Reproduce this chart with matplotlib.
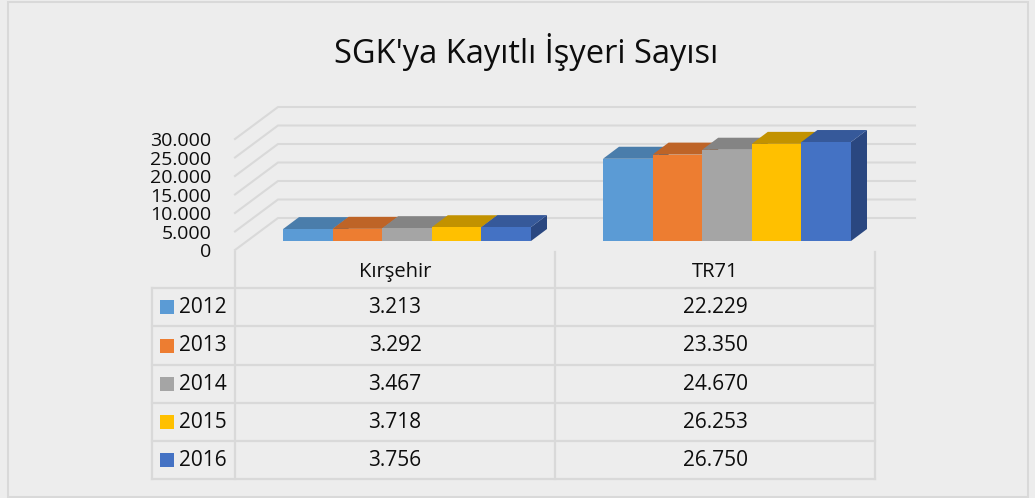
import matplotlib.pyplot as plt
from matplotlib.patches import Polygon, Rectangle

plt.rcParams["font.family"] = ["Open Sans", "DejaVu Sans"]

regions = ["Kırşehir", "TR71"]
years = ["2012", "2013", "2014", "2015", "2016"]
v2012 = [3213, 22229]
v2013 = [3292, 23350]
v2014 = [3467, 24670]
v2015 = [3718, 26253]
v2016 = [3756, 26750]
series = [v2012, v2013, v2014, v2015, v2016]
y_ticks = [0, 5000, 10000, 15000, 20000, 25000, 30000]

front_colors = ["#5B9BD5", "#ED7D31", "#A5A5A5", "#FFC000", "#4472C4"]
top_colors = ["#4A7DAB", "#BE6427", "#848484", "#C29200", "#36599A"]
side_colors = ["#3E6A93", "#A35522", "#707070", "#A67D00", "#2A4780"]

BG = "#EDEDED"
GRID = "#D9D9D9"
INK = "#0d0d0d"
W, H = 1035, 498


def fmt(v):
    return f"{v:,}".replace(",", ".")


fig = plt.figure(figsize=(W / 100, H / 100), dpi=100, facecolor=BG)

# overlay in pixel coords for frame, title and table
ov = fig.add_axes([0, 0, 1, 1], zorder=0)
ov.set_xlim(0, W)
ov.set_ylim(H, 0)
ov.axis("off")
ov.add_patch(Rectangle((8, 2), 1020, 495, fill=False, ec=GRID, lw=1.5))
ov.text(526, 52, "SGK'ya Kayıtlı İşyeri Sayısı", ha="center", va="center",
        fontsize=23.5, color=INK)

# plot area: front floor from x=235..875 px, value 0 at y=250 px
px_x = 1 / 320
px_y = 30000 / 111
ax = fig.add_axes([235 / W, (H - 250) / H, 683 / W, 150 / H], zorder=1)
ax.set_xlim(-0.5, -0.5 + 683 * px_x)
ax.set_ylim(0, 150 * px_y)
ax.patch.set_alpha(0)
for s in ax.spines.values():
    s.set_visible(False)
ax.set_xticks([])
ax.set_yticks(y_ticks)
ax.set_yticklabels([fmt(t) for t in y_ticks])
ax.tick_params(axis="y", length=0, pad=17, labelsize=14, labelcolor=INK)

# back wall gridlines
wall_dx, wall_dy = 43 * px_x, 32 * px_y
x_end = -0.5 + 680 * px_x
for t in y_ticks:
    ax.plot([-0.5, -0.5 + wall_dx, x_end], [t, t + wall_dy, t + wall_dy],
            color=GRID, lw=1.5, clip_on=False, zorder=1)

# pseudo 3d bars
group_w = 0.775
bar_w = group_w / len(series)
dxf, dyf = 12 * px_x, 9 * px_y
ddx, ddy = 16 * px_x, 12 * px_y
z = 2
for ci in range(len(regions)):
    for si, vals in enumerate(series):
        v = vals[ci]
        xl = ci - group_w / 2 + si * bar_w + dxf
        xr = xl + bar_w
        side = Polygon([(xr, dyf), (xr, dyf + v), (xr + ddx, dyf + v + ddy),
                        (xr + ddx, dyf + ddy)], closed=True,
                       fc=side_colors[si], ec="none", zorder=z, clip_on=False)
        top = Polygon([(xl, dyf + v), (xr, dyf + v), (xr + ddx, dyf + v + ddy),
                       (xl + ddx, dyf + v + ddy)], closed=True,
                      fc=top_colors[si], ec="none", zorder=z + 1, clip_on=False)
        ax.add_patch(side)
        ax.add_patch(top)
        ax.bar(xl, v, width=bar_w, bottom=dyf, align="edge",
               color=front_colors[si], zorder=z + 2, clip_on=False)
        z += 3

# data table
col_x = [152, 235, 555, 875]
row_y = [288, 326, 365, 403, 441, 479]
for x in col_x[1:]:
    ov.plot([x, x], [252, row_y[-1]], color=GRID, lw=1.6)
ov.plot([col_x[0], col_x[0]], [row_y[0], row_y[-1]], color=GRID, lw=1.6)
for y in row_y:
    ov.plot([col_x[0], col_x[-1]], [y, y], color=GRID, lw=1.6)

for ci, name in enumerate(regions):
    cx = (col_x[ci + 1] + col_x[ci + 2]) / 2
    ov.text(cx, 272, name, ha="center", va="center", fontsize=14.5, color=INK)
for si, vals in enumerate(series):
    cy = (row_y[si] + row_y[si + 1]) / 2
    ov.add_patch(Rectangle((160, cy - 7), 14, 14, fc=front_colors[si], ec="none"))
    ov.text(179, cy, years[si], ha="left", va="center", fontsize=15, color=INK)
    for ci, v in enumerate(vals):
        cx = (col_x[ci + 1] + col_x[ci + 2]) / 2
        ov.text(cx, cy, fmt(v), ha="center", va="center", fontsize=15, color=INK)

fig.savefig("out.png", dpi=100, facecolor=BG)
